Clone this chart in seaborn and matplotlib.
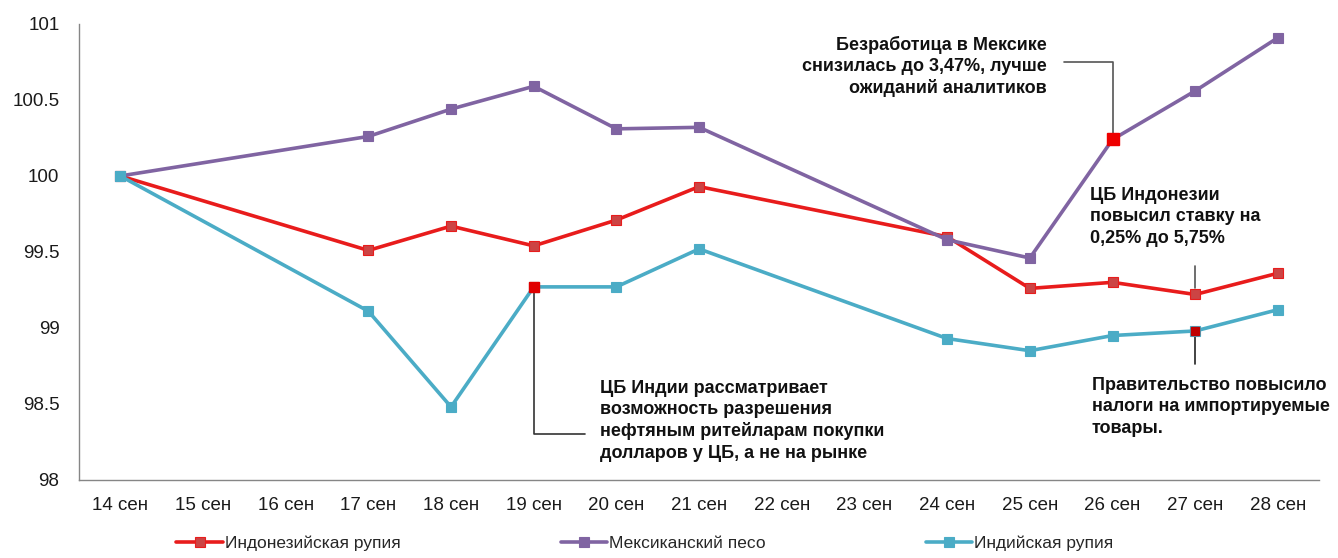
import seaborn as sns
import matplotlib.pyplot as plt
import pandas as pd
import numpy as np

# data
dates = ['14 сен', '15 сен', '16 сен', '17 сен', '18 сен', '19 сен', '20 сен', '21 сен',
         '22 сен', '23 сен', '24 сен', '25 сен', '26 сен', '27 сен', '28 сен']
idr = [100, None, None, 99.51, 99.67, 99.54, 99.71, 99.93, None, None, 99.60, 99.26, 99.30, 99.22, 99.36]
mxn = [100, None, None, 100.26, 100.44, 100.59, 100.31, 100.32, None, None, 99.58, 99.46, 100.24, 100.56, 100.91]
inr = [100, None, None, 99.11, 98.48, 99.27, 99.27, 99.52, None, None, 98.93, 98.85, 98.95, 98.98, 99.12]
series_names = ['Индонезийская рупия', 'Мексиканский песо', 'Индийская рупия']

sns.set_style("white")
plt.rcParams['font.family'] = ['Liberation Sans', 'DejaVu Sans']

fig = plt.figure(figsize=(13.38, 5.58), dpi=100)
ax = fig.add_axes([0.059, 0.140, 0.927, 0.817])

x = np.arange(len(dates))
styles = [
    (idr, '#e81c1c', '#cc4444'),
    (mxn, '#8064a2', '#8064a2'),
    (inr, '#4bacc6', '#4bacc6'),
]
for (vals, lc, mc), name in zip(styles, series_names):
    df = pd.DataFrame({'x': x, 'y': vals}).dropna()
    sns.lineplot(data=df, x='x', y='y', ax=ax, color=lc, lw=2.6, marker='s',
                 markersize=7, markerfacecolor=mc, markeredgecolor=lc,
                 markeredgewidth=0.8, label=name)

# highlighted points
i19, i26, i27 = dates.index('19 сен'), dates.index('26 сен'), dates.index('27 сен')
ax.plot(i19, inr[i19], 's', color='#e00000', ms=7, zorder=5)
ax.plot(i26, mxn[i26], 's', color='#ee0000', ms=8, zorder=5)
ax.plot(i27, inr[i27], 's', color='#c00000', ms=5.5, zorder=5)

# axes
ax.set_xlim(-0.5, len(dates) - 0.5)
ax.set_ylim(98, 101)
ax.set_yticks(np.arange(98, 101.01, 0.5))
ax.set_yticklabels(['98', '98.5', '99', '99.5', '100', '100.5', '101'])
ax.set_xticks(x)
ax.set_xticklabels(dates)
ax.set_xticks(np.arange(-0.5, len(dates)), minor=True)
ax.tick_params(axis='x', which='major', length=0, pad=12, labelsize=13.5, colors='#1a1a1a')
ax.tick_params(axis='x', which='minor', length=6, width=1, color='#868686', direction='out')
ax.tick_params(axis='y', length=6, width=1, color='#868686', direction='out',
               pad=8, labelsize=13.5, labelcolor='#1a1a1a')
ax.set_xlabel('')
ax.set_ylabel('')
for s in ['top', 'right']:
    ax.spines[s].set_visible(False)
for s in ['left', 'bottom']:
    ax.spines[s].set_color('#868686')
    ax.spines[s].set_linewidth(1)

# annotations
tk = dict(fontsize=13, fontweight='bold', color='#111111', linespacing=1.32)
lk = dict(color='#555555', lw=1.2, zorder=1)

ax.text(11.21, 100.72, 'Безработица в Мексике\nснизилась до 3,47%, лучше\nожиданий аналитиков',
        ha='right', va='center', multialignment='right', **tk)
ax.plot([11.41, 12, 12], [100.75, 100.75, mxn[i26] + 0.04], **lk)

ax.text(11.73, 99.73, 'ЦБ Индонезии\nповысил ставку на\n0,25% до 5,75%',
        ha='left', va='center', **tk)
ax.plot([13, 13], [99.41, idr[i27] + 0.04], **lk)

ax.text(11.75, 98.48, 'Правительство повысило\nналоги на импортируемые\nтовары.',
        ha='left', va='center', **tk)
ax.plot([13, 13], [inr[i27], 98.76], color='#222222', lw=1.2, zorder=1)

ax.text(5.80, 98.39, 'ЦБ Индии рассматривает\nвозможность разрешения\nнефтяным ритейларам покупки\nдолларов у ЦБ, а не на рынке',
        ha='left', va='center', **tk)
ax.plot([5, 5, 5.62], [inr[i19], 98.30, 98.30], color='#333333', lw=1.2, zorder=1)

# legend
ax.get_legend().remove()
handles, labels = ax.get_legend_handles_labels()
fig.legend(handles[:3], labels[:3], loc='center', bbox_to_anchor=(0.482, 0.027), ncol=3,
           frameon=False, fontsize=12.5, handlelength=2.7, handletextpad=0.1,
           columnspacing=9.2)

fig.savefig('out.png', dpi=100)
